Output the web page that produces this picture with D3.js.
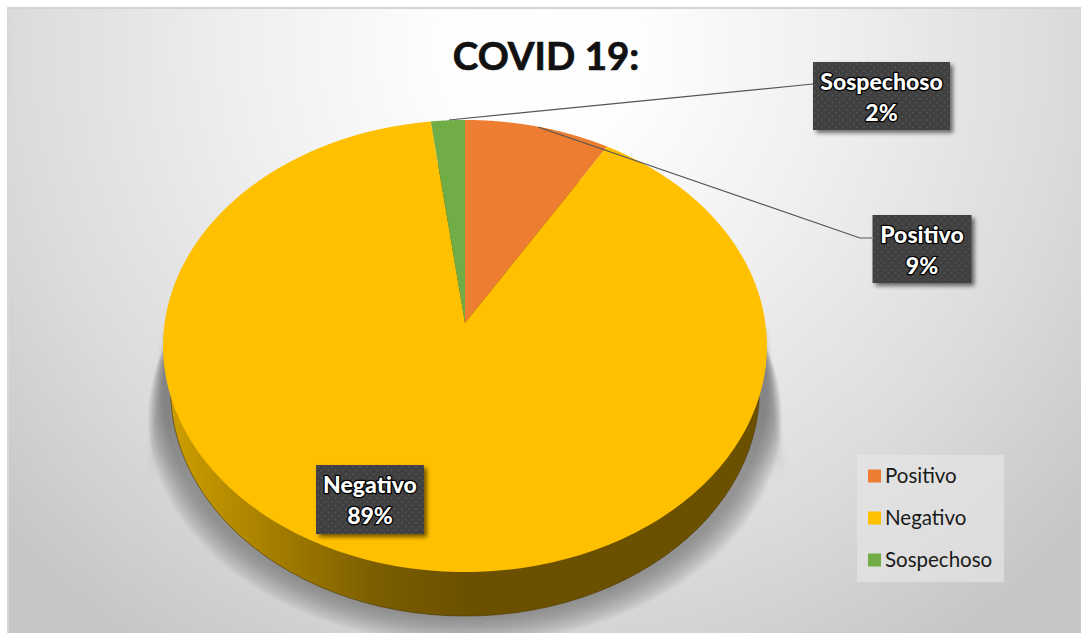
<!DOCTYPE html>
<html><head><meta charset="utf-8">
<script src="https://cdn.jsdelivr.net/npm/d3@7"></script>
<style>html,body{margin:0;padding:0;background:#fff;overflow:hidden}svg{display:block}text{font-family:Lato,"Open Sans",sans-serif}</style>
</head><body><div id="chart"></div>
<script>
const title = "COVID 19:";
const categories = ["Positivo", "Negativo", "Sospechoso"];
const values = [8.6, 89.4, 2];
const percentLabels = ["9%", "89%", "2%"];
const colors = ["#ED7D31", "#FFC000", "#70AD47"];

const W = 1081, H = 637;
const svg = d3.select("#chart").append("svg").attr("width", W).attr("height", H);
const defs = svg.append("defs");

// page background
const bg = defs.append("radialGradient").attr("id","bg").attr("gradientUnits","userSpaceOnUse")
  .attr("cx",540).attr("cy",50).attr("r",720);
[[0,"#ffffff"],[.15,"#fdfdfd"],[.4,"#f0f0f0"],[.72,"#dcdcdc"],[1,"#c6c6c6"]].forEach(([o,c])=>bg.append("stop").attr("offset",o).attr("stop-color",c));
const frameX = 7, frameY = 7, frameH = H-11;
svg.append("rect").attr("x",frameX).attr("y",frameY).attr("width",W-frameX).attr("height",frameH).attr("fill","url(#bg)");
svg.append("rect").attr("x",frameX).attr("y",frameY).attr("width",W-frameX).attr("height",2).attr("fill","#d4d4d4");
svg.append("rect").attr("x",frameX).attr("y",frameY).attr("width",2).attr("height",frameH).attr("fill","#d8d8d8");

// tilted-disc projection of the unit circle
const persp = 0.1018;
const sx = d3.scaleLinear().domain([-1,1]).range([465-300.4, 465+300.4]);
const sy = d3.scaleLinear().domain([-1,1]).range([323+223.7, 323-223.7]);
const project = (a, k=1, dy=0) => {
  const u = Math.sin(a), v = Math.cos(a), w = 1 + persp*v;
  return [sx(u*k/w), sy(v/w) + dy];
};
const pie = d3.pie().sort(null).value(d=>d);
const arcs = pie(values);
const lineGen = d3.line();
const rim = (a0,a1,k,dy) => d3.range(0,121).map(i=>project(a0+(a1-a0)*i/120,k,dy));
const wedge = (a0,a1) => lineGen([[sx(0),sy(0)],...rim(a0,a1,1,0)])+"Z";
const disc = (k,dy) => lineGen(rim(0,2*Math.PI,k,dy))+"Z";

// filters
const f2 = defs.append("filter").attr("id","soft2").attr("x","-50%").attr("y","-20%").attr("width","200%").attr("height","140%");
f2.append("feGaussianBlur").attr("stdDeviation",2.5);
const f3 = defs.append("filter").attr("id","boxsh").attr("x","-20%").attr("y","-20%").attr("width","150%").attr("height","150%");
f3.append("feDropShadow").attr("dx",3).attr("dy",3).attr("stdDeviation",2.2).attr("flood-color","#000").attr("flood-opacity",.55);

// shadow: stacked thin halos so it darkens smoothly towards the rim
const shadowG = svg.append("g");
const fadeL = defs.append("linearGradient").attr("id","fade").attr("x1",0).attr("y1",0).attr("x2",0).attr("y2",1);
[[0,.9],[.6,.75],[1,0]].forEach(([o,a])=>fadeL.append("stop").attr("offset",o).attr("stop-color","#b6b6b6").attr("stop-opacity",a));
shadowG.append("path").attr("d",lineGen([[165,330],[146,480],[215,480],[215,330]])+"Z").attr("fill","url(#fade)").attr("filter","url(#soft2)");
shadowG.append("path").attr("d",lineGen([[765,330],[786,480],[715,480],[715,330]])+"Z").attr("fill","url(#fade)").attr("filter","url(#soft2)");
const halos = d3.range(0,24).map(i=>[1.0+i*0.0022, 46+i*1.15]);
shadowG.selectAll("path.halo").data(halos).join("path").attr("class","halo")
  .attr("d",d=>disc(d[0],d[1])).attr("fill","#6a6a6a").attr("fill-opacity",.032);
svg.append("rect").attr("x",0).attr("y",frameY+frameH).attr("width",W).attr("height",H-frameY-frameH).attr("fill","#fff");

// side wall
const side = defs.append("linearGradient").attr("id","side").attr("gradientUnits","userSpaceOnUse")
  .attr("x1",163).attr("y1",0).attr("x2",767).attr("y2",0);
[[0,"#CFA000"],[.12,"#B48A00"],[.35,"#7C5E00"],[.5,"#6B5000"],[1,"#6B5000"]].forEach(([o,c])=>side.append("stop").attr("offset",o).attr("stop-color",c));
svg.append("path").attr("d",disc(.975,44)).attr("fill","url(#side)").attr("stroke","#4a3800").attr("stroke-width",.6);
const hullY = 346;
svg.append("path").attr("d",lineGen([[sx(-1)-0.5,hullY],[sx(-1)+8,hullY+50],[sx(1)-8,hullY+50],[sx(1)+0.5,hullY]])+"Z").attr("fill","url(#side)");

// face
svg.append("g").selectAll("path").data(arcs).join("path")
  .attr("d",d=>wedge(d.startAngle,d.endAngle)).attr("fill",(d,i)=>colors[i]);

// title
svg.append("text").attr("x",546).attr("y",70).attr("text-anchor","middle")
  .attr("font-size",38.5).attr("font-weight",700).attr("fill","#111").attr("stroke","#111").attr("stroke-width",.7).text(title);

// leaders
const leaders = [
  {from:1,pts:[[538,127],[860,238],[872,238]]},
  {from:2,pts:[[449,120],[803,85],[813,84]]}
];
svg.append("g").selectAll("path.lead").data(leaders).join("path").attr("class","lead")
  .attr("d",d=>lineGen(d.pts)).attr("fill","none").attr("stroke","#555").attr("stroke-width",1.2);

// data labels
const dots = defs.append("pattern").attr("id","dots").attr("patternUnits","userSpaceOnUse").attr("width",7).attr("height",7);
dots.append("rect").attr("width",7).attr("height",7).attr("fill","#3f3f3f");
dots.append("circle").attr("cx",2).attr("cy",2).attr("r",.9).attr("fill","#555");
dots.append("circle").attr("cx",5.5).attr("cy",5.5).attr("r",.9).attr("fill","#555");
const boxes = [
  {i:0,x:872.5,y:215,w:99,h:68},
  {i:1,x:316,y:465,w:108,h:69},
  {i:2,x:813,y:62,w:137,h:68}
];
const lab = svg.append("g").selectAll("g").data(boxes).join("g").attr("transform",d=>`translate(${d.x},${d.y})`);
lab.append("rect").attr("width",d=>d.w).attr("height",d=>d.h).attr("fill","url(#dots)").attr("filter","url(#boxsh)");
[[d=>categories[d.i],28],[d=>percentLabels[d.i],59]].forEach(([t,y])=>{
  lab.append("text").attr("x",d=>d.w/2).attr("y",y).attr("text-anchor","middle").attr("font-size",23).attr("font-weight",900)
    .attr("fill","#fff").attr("stroke","#000").attr("stroke-width",2.6).attr("paint-order","stroke").attr("stroke-linejoin","round").text(t);
});

// legend
const leg = svg.append("g");
leg.append("rect").attr("x",857).attr("y",455).attr("width",147).attr("height",127).attr("fill","#e6e6e6").attr("fill-opacity",.65);
const ly = d3.scalePoint().domain(categories).range([476,560]);
leg.selectAll("rect.sw").data(categories).join("rect").attr("class","sw").attr("x",868).attr("y",d=>ly(d)-6.5).attr("width",13).attr("height",13).attr("fill",(d,i)=>colors[i]);
leg.selectAll("text").data(categories).join("text").attr("x",885).attr("y",d=>ly(d)+6.5).attr("font-size",20.5).attr("fill","#1a1a1a").text(d=>d);
</script></body></html>
